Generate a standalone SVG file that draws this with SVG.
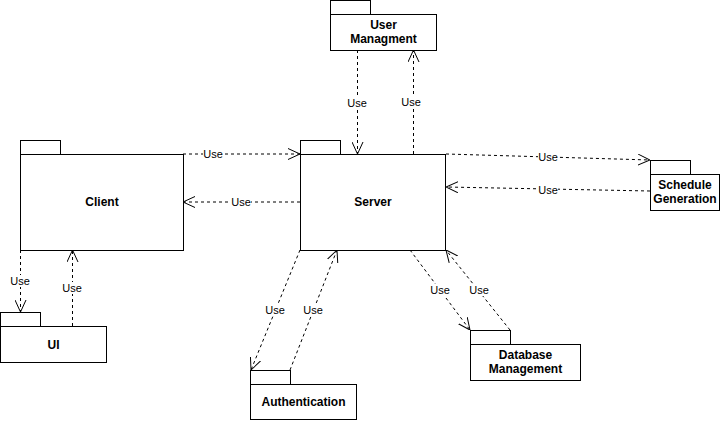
<svg xmlns="http://www.w3.org/2000/svg" width="721" height="421" viewBox="0 0 721 421">
<defs>
<style>
.box{fill:#fff;stroke:#000;stroke-width:1}
.name{font-family:"Liberation Sans",Arial,sans-serif;font-size:12px;font-weight:bold;fill:#000;text-anchor:middle}
.edge{fill:none;stroke:#000;stroke-width:1;stroke-dasharray:3 3}
.lbl{font-family:"Liberation Sans",Arial,sans-serif;font-size:11px;fill:#000;text-anchor:middle}
.lblbg{fill:#fff}
</style>
<marker id="open" viewBox="0 0 12 12" refX="12" refY="6" markerWidth="12" markerHeight="12" markerUnits="userSpaceOnUse" orient="auto">
<path d="M0,0.5 L12,6 L0,11.5" fill="none" stroke="#000" stroke-width="1"/>
</marker>
</defs>
<rect width="721" height="421" fill="#fff"/>
<g id="connectors">
<line class="edge" x1="183" y1="154" x2="300" y2="154" marker-end="url(#open)"/>
<line class="edge" x1="300" y1="202" x2="183" y2="202" marker-end="url(#open)"/>
<line class="edge" x1="357.5" y1="50" x2="357.5" y2="154" marker-end="url(#open)"/>
<line class="edge" x1="413.5" y1="154" x2="413.5" y2="50" marker-end="url(#open)"/>
<line class="edge" x1="446" y1="154" x2="650" y2="160" marker-end="url(#open)"/>
<line class="edge" x1="650" y1="191" x2="446" y2="187" marker-end="url(#open)"/>
<line class="edge" x1="20.5" y1="250" x2="20.5" y2="312" marker-end="url(#open)"/>
<line class="edge" x1="72.5" y1="326" x2="72.5" y2="250" marker-end="url(#open)"/>
<line class="edge" x1="300" y1="250" x2="251" y2="370" marker-end="url(#open)"/>
<line class="edge" x1="290" y1="370" x2="337" y2="250" marker-end="url(#open)"/>
<line class="edge" x1="410" y1="250" x2="470" y2="330" marker-end="url(#open)"/>
<line class="edge" x1="510" y1="330" x2="446" y2="250" marker-end="url(#open)"/>
<g>
<rect class="lblbg" x="203" y="148" width="20" height="12"/><text class="lbl" x="213" y="158">Use</text>
<rect class="lblbg" x="231" y="196" width="20" height="12"/><text class="lbl" x="241" y="206">Use</text>
<rect class="lblbg" x="347" y="97" width="20" height="12"/><text class="lbl" x="357" y="107">Use</text>
<rect class="lblbg" x="401" y="96" width="20" height="12"/><text class="lbl" x="411" y="106">Use</text>
<rect class="lblbg" x="538" y="151" width="20" height="12"/><text class="lbl" x="548" y="161">Use</text>
<rect class="lblbg" x="538" y="184" width="20" height="12"/><text class="lbl" x="548" y="194">Use</text>
<rect class="lblbg" x="10" y="275" width="20" height="12"/><text class="lbl" x="20" y="285">Use</text>
<rect class="lblbg" x="62" y="282" width="20" height="12"/><text class="lbl" x="72" y="292">Use</text>
<rect class="lblbg" x="265" y="304" width="20" height="12"/><text class="lbl" x="275" y="314">Use</text>
<rect class="lblbg" x="303" y="304" width="20" height="12"/><text class="lbl" x="313" y="314">Use</text>
<rect class="lblbg" x="430" y="284" width="20" height="12"/><text class="lbl" x="440" y="294">Use</text>
<rect class="lblbg" x="469" y="284" width="20" height="12"/><text class="lbl" x="479" y="294">Use</text>
</g>
</g>
<g id="user-managment">
<rect class="box" x="330.5" y="0.5" width="40" height="14"/>
<rect class="box" x="330.5" y="14.5" width="106" height="36"/>
<text class="name" x="383.5" y="29">User</text>
<text class="name" x="383.5" y="43">Managment</text>
</g>
<g id="client">
<rect class="box" x="20.5" y="140.5" width="40" height="14"/>
<rect class="box" x="20.5" y="154.5" width="163" height="96"/>
<text class="name" x="102" y="206">Client</text>
</g>
<g id="server">
<rect class="box" x="300.5" y="140.5" width="40" height="14"/>
<rect class="box" x="300.5" y="154.5" width="145" height="96"/>
<text class="name" x="373" y="206">Server</text>
</g>
<g id="schedule-generation">
<rect class="box" x="650.5" y="160.5" width="40" height="14"/>
<rect class="box" x="650.5" y="174.5" width="69" height="36"/>
<text class="name" x="685" y="189">Schedule</text>
<text class="name" x="685" y="203">Generation</text>
</g>
<g id="ui">
<rect class="box" x="0.5" y="312.5" width="40" height="14"/>
<rect class="box" x="0.5" y="326.5" width="106" height="36"/>
<text class="name" x="53.5" y="349">UI</text>
</g>
<g id="authentication">
<rect class="box" x="250.5" y="370.5" width="40" height="14"/>
<rect class="box" x="250.5" y="384.5" width="106" height="35"/>
<text class="name" x="303.5" y="406">Authentication</text>
</g>
<g id="database-management">
<rect class="box" x="470.5" y="330.5" width="40" height="14"/>
<rect class="box" x="470.5" y="344.5" width="110" height="36"/>
<text class="name" x="525.5" y="359">Database</text>
<text class="name" x="525.5" y="373">Management</text>
</g>
</svg>
